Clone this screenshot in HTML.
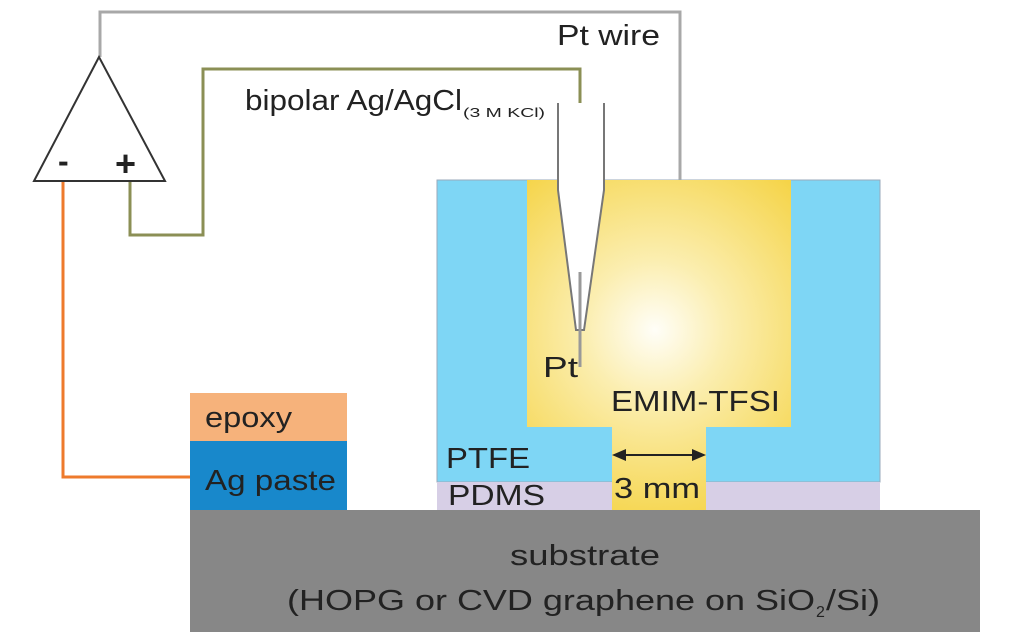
<!DOCTYPE html>
<html><head><style>body{margin:0;background:#fff}svg{display:block}text{font-family:"Liberation Sans",sans-serif;fill:#222}</style></head><body>
<svg width="1030" height="641" viewBox="0 0 1030 641" xmlns="http://www.w3.org/2000/svg">
<defs>
<radialGradient id="g" cx="655" cy="330" r="200" gradientUnits="userSpaceOnUse">
<stop offset="0" stop-color="#fffef8"/><stop offset="0.35" stop-color="#fbeeb0"/><stop offset="1" stop-color="#f5d448"/></radialGradient>
</defs>
<rect width="1030" height="641" fill="#fff"/>
<polyline points="100,57 100,12 680,12 680,290" fill="none" stroke="#a8a8a8" stroke-width="3"/>
<polyline points="130,181 130,235 203,235 203,69 580,69 580,105" fill="none" stroke="#8b8f55" stroke-width="3"/>
<polyline points="63,181 63,477 190,477" fill="none" stroke="#ee7a2c" stroke-width="3"/>
<polygon points="99,57 34,181 165,181" fill="#fff" stroke="#333" stroke-width="2"/>
<text x="58" y="172" font-size="32" font-weight="bold">-</text>
<text x="115" y="176" font-size="36" font-weight="bold">+</text>
<rect x="437" y="180" width="443" height="302" fill="#7ed6f5" stroke="#9ab" stroke-width="1"/>
<rect x="437" y="482" width="443" height="28" fill="#d7cfe6"/>
<path d="M527,180 H791 V427 H706 V510 H612 V427 H527 Z" fill="url(#g)"/>
<path d="M558,103 V190 L576,330 H584 L604,190 V103" fill="#fff" stroke="#777" stroke-width="2"/>
<line x1="580" y1="272" x2="580" y2="367" stroke="#999" stroke-width="3"/>
<rect x="190" y="510" width="790" height="122" fill="#878787"/>
<rect x="190" y="393" width="157" height="48" fill="#f6b27b"/>
<rect x="190" y="441" width="157" height="69" fill="#1888cb"/>
<line x1="622" y1="455" x2="696" y2="455" stroke="#222" stroke-width="2"/>
<polygon points="612,455 626,449 626,461" fill="#222"/>
<polygon points="706,455 692,449 692,461" fill="#222"/>
<text x="557" y="45" font-size="29" textLength="103" lengthAdjust="spacingAndGlyphs">Pt wire</text>
<text x="245" y="110" font-size="29" textLength="217" lengthAdjust="spacingAndGlyphs">bipolar Ag/AgCl</text>
<text x="463" y="117" font-size="13" textLength="82" lengthAdjust="spacingAndGlyphs">(3 M KCl)</text>
<text x="543" y="377" font-size="29" textLength="35" lengthAdjust="spacingAndGlyphs">Pt</text>
<text x="611" y="411" font-size="29" textLength="169" lengthAdjust="spacingAndGlyphs">EMIM-TFSI</text>
<text x="446" y="468" font-size="29" textLength="84" lengthAdjust="spacingAndGlyphs">PTFE</text>
<text x="448" y="505" font-size="29" textLength="97" lengthAdjust="spacingAndGlyphs">PDMS</text>
<text x="614" y="498" font-size="29" textLength="86" lengthAdjust="spacingAndGlyphs">3 mm</text>
<text x="205" y="427" font-size="29" textLength="87" lengthAdjust="spacingAndGlyphs">epoxy</text>
<text x="205" y="490" font-size="29" textLength="131" lengthAdjust="spacingAndGlyphs">Ag paste</text>
<text x="510" y="565" font-size="29" textLength="150" lengthAdjust="spacingAndGlyphs">substrate</text>
<text x="287" y="610" font-size="29" textLength="528" lengthAdjust="spacingAndGlyphs">(HOPG or CVD graphene on SiO</text>
<text x="816" y="617" font-size="16">2</text>
<text x="826" y="610" font-size="29" textLength="54" lengthAdjust="spacingAndGlyphs">/Si)</text>
</svg>
</body></html>
